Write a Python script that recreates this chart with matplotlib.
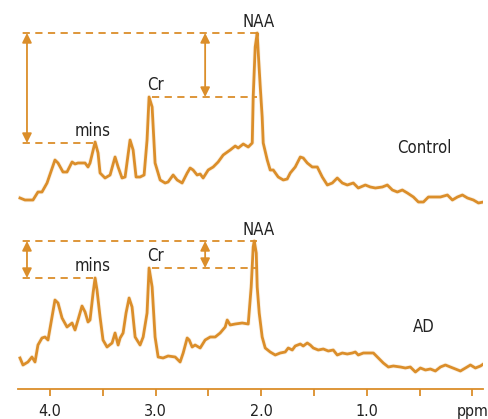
import numpy as np
import matplotlib.pyplot as plt

# chemical shift (ppm) and signal height for each spectrum
control_ppm = [4.284, 4.237, 4.161, 4.114, 4.076, 4.028, 3.953, 3.924, 3.877, 3.839,
               3.791, 3.763, 3.735, 3.668, 3.640, 3.621, 3.573, 3.545, 3.526, 3.479,
               3.431, 3.384, 3.355, 3.318, 3.289, 3.242, 3.213, 3.185, 3.147, 3.109,
               3.081, 3.062, 3.033, 3.005, 2.957, 2.910, 2.882, 2.834, 2.796, 2.749,
               2.701, 2.673, 2.645, 2.607, 2.578, 2.550, 2.502, 2.455, 2.408, 2.360,
               2.294, 2.246, 2.218, 2.170, 2.123, 2.085, 2.076, 2.057, 2.038, 2.028,
               2.009, 1.991, 1.981, 1.943, 1.915, 1.886, 1.839, 1.791, 1.754, 1.725,
               1.678, 1.630, 1.602, 1.564, 1.517, 1.469, 1.422, 1.374, 1.327, 1.280,
               1.232, 1.185, 1.128, 1.081, 1.014, 0.967, 0.919, 0.853, 0.806, 0.758,
               0.711, 0.664, 0.616, 0.559, 0.512, 0.464, 0.417, 0.351, 0.303, 0.237,
               0.190, 0.142, 0.095, 0.047, -0.009, -0.057, -0.104]
control_sig = [191, 189, 189, 197, 197, 206, 229, 226, 217, 217,
               227, 225, 226, 226, 222, 226, 247, 236, 216, 211,
               214, 232, 222, 211, 212, 249, 239, 212, 212, 214,
               249, 292, 282, 226, 209, 206, 207, 214, 209, 206,
               216, 221, 219, 214, 215, 211, 219, 222, 227, 234,
               239, 243, 241, 245, 242, 246, 292, 342, 356, 336,
               302, 272, 246, 229, 219, 219, 212, 209, 210, 216,
               222, 232, 231, 226, 222, 222, 212, 204, 206, 211,
               206, 204, 206, 201, 204, 202, 201, 202, 204, 199,
               197, 199, 196, 192, 187, 187, 192, 192, 192, 194,
               189, 192, 194, 191, 189, 186, 187]

ad_ppm = [4.284, 4.256, 4.209, 4.171, 4.142, 4.114, 4.076, 4.047, 4.019, 3.981,
          3.953, 3.924, 3.886, 3.839, 3.791, 3.763, 3.735, 3.697, 3.668, 3.640,
          3.621, 3.592, 3.573, 3.555, 3.526, 3.498, 3.460, 3.412, 3.384, 3.355,
          3.336, 3.308, 3.280, 3.251, 3.223, 3.194, 3.147, 3.118, 3.081, 3.062,
          3.033, 3.005, 2.976, 2.929, 2.882, 2.815, 2.768, 2.739, 2.701, 2.682,
          2.654, 2.626, 2.578, 2.531, 2.483, 2.436, 2.389, 2.341, 2.322, 2.294,
          2.246, 2.180, 2.123, 2.095, 2.076, 2.066, 2.047, 2.038, 2.019, 1.991,
          1.962, 1.915, 1.867, 1.820, 1.773, 1.744, 1.706, 1.678, 1.630, 1.602,
          1.564, 1.536, 1.507, 1.460, 1.412, 1.365, 1.318, 1.280, 1.232, 1.185,
          1.137, 1.109, 1.081, 1.033, 0.986, 0.938, 0.891, 0.844, 0.796, 0.749,
          0.682, 0.635, 0.588, 0.540, 0.493, 0.445, 0.398, 0.351, 0.303, 0.256,
          0.209, 0.161, 0.114, 0.066, 0.019, -0.028, -0.076, -0.104]
ad_sig = [31, 24, 27, 32, 27, 44, 51, 52, 49, 72,
          89, 86, 71, 62, 66, 59, 69, 83, 77, 67,
          69, 96, 111, 99, 72, 49, 42, 46, 56, 44,
          51, 56, 76, 91, 82, 52, 44, 52, 76, 121,
          102, 52, 32, 31, 33, 32, 27, 36, 51, 49,
          42, 44, 41, 49, 52, 52, 56, 62, 69, 64,
          65, 66, 65, 102, 142, 148, 136, 102, 76, 52,
          41, 37, 34, 36, 37, 41, 39, 43, 45, 43,
          46, 44, 41, 39, 40, 38, 39, 34, 36, 35,
          36, 37, 34, 36, 36, 36, 31, 26, 22, 23,
          22, 21, 22, 17, 21, 19, 20, 18, 22, 24,
          22, 20, 18, 21, 24, 21, 23, 25]

# peak positions and heights used for the reference lines
peak_ppm = {'NAA': 2.038, 'Cr': 3.033, 'mins': 3.592}
control_peaks = {'NAA': 356, 'Cr': 292, 'mins': 246}
ad_peaks = {'NAA': 148, 'Cr': 121, 'mins': 111}

tick_pos = [4.0, 3.5, 3.0, 2.5, 2.0, 1.5, 1.0, 0.5, 0.0]
tick_lab = ['4.0', '', '3.0', '', '2.0', '', '1.0', '', 'ppm']

orange = '#DB8E2A'
txt = '#222222'
plt.rcParams['font.family'] = ['DejaVu Sans']
fs = 12

fig = plt.figure(figsize=(4.89, 4.19), dpi=100)
ax = fig.add_axes([18 / 489, 30 / 419, 465 / 489, 389 / 419])
ax.set_xlim(4.303, -0.10)
ax.set_ylim(0, 389)

for x, y in [(control_ppm, control_sig), (ad_ppm, ad_sig)]:
    ax.plot(x, y, color=orange, lw=3.2, alpha=0.12, solid_joinstyle='round')
    ax.plot(x, y, color=orange, lw=2.0, solid_joinstyle='round')

x_left = 4.379
arrow_l = 4.218
arrow_r = 2.531
for pk, name, lab_x, lab_y in [(control_peaks, 'Control', 0.46, 236),
                               (ad_peaks, 'AD', 0.464, 57)]:
    dash = dict(color=orange, lw=1.3, dashes=(4, 3))
    ax.plot([x_left, peak_ppm['NAA']], [pk['NAA'], pk['NAA']], **dash)
    ax.plot([peak_ppm['Cr'], peak_ppm['NAA']], [pk['Cr'], pk['Cr']], **dash)
    ax.plot([x_left, peak_ppm['mins']], [pk['mins'], pk['mins']], **dash)
    for ax_x, lo in [(arrow_l, pk['mins']), (arrow_r, pk['Cr'])]:
        ax.annotate('', xy=(ax_x, pk['NAA']), xytext=(ax_x, lo),
                    arrowprops=dict(arrowstyle='<|-|>', color=orange, lw=1.3,
                                    mutation_scale=14, shrinkA=0, shrinkB=0))
    lab = dict(ha='center', va='baseline', fontsize=fs, color=txt,
               fontstretch='condensed')
    ax.text(2.028, pk['NAA'] + 6, 'NAA', **lab)
    ax.text(3.005, pk['Cr'] + 7, 'Cr', **lab)
    ax.text(3.60, pk['mins'] + 7, 'mins', **lab)
    ax.text(lab_x, lab_y, name, **lab)

for s in ['top', 'left', 'right']:
    ax.spines[s].set_visible(False)
ax.spines['bottom'].set_color(orange)
ax.spines['bottom'].set_linewidth(1.3)
ax.set_yticks([])
ax.set_xticks(tick_pos)
ax.set_xticklabels(tick_lab, fontstretch='condensed')
ax.tick_params(axis='x', direction='out', length=5, width=1.3, color=orange,
               labelsize=11.5, labelcolor=txt, pad=6)
ax.patch.set_alpha(0)

fig.savefig('out.png', dpi=100)
